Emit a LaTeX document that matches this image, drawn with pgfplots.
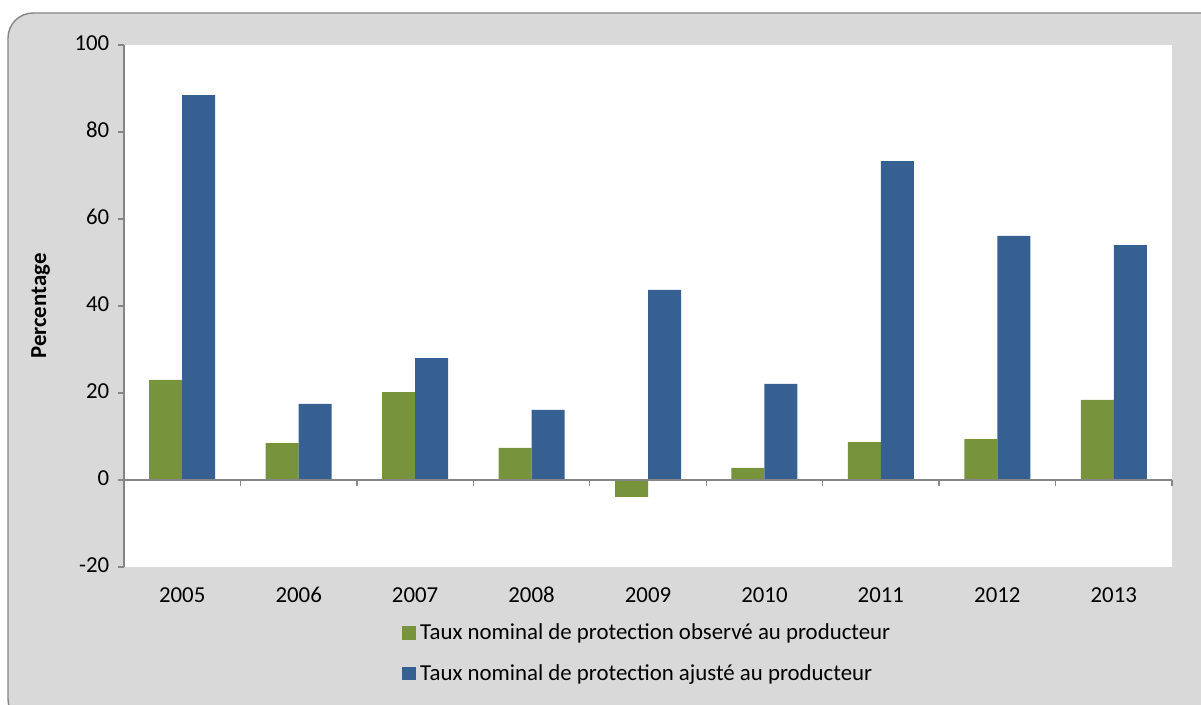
\documentclass[border=0pt]{standalone}
\usepackage{fontspec}
\setmainfont{Carlito}
\usepackage{pgfplots}
\pgfplotsset{compat=1.18}

\definecolor{panelgray}{HTML}{D9D9D9}
\definecolor{edgegray}{HTML}{868686}
\definecolor{obsgreen}{HTML}{77933C}
\definecolor{adjblue}{HTML}{366092}

\begin{document}
\begin{tikzpicture}
\useasboundingbox (0,0) rectangle (24.02,14.08);
\fill[white] (0,0) rectangle (24.02,14.08);
\draw[edgegray, fill=panelgray, line width=0.8pt, rounded corners=0.5cm]
  (0.16,-0.4) rectangle (24.6,13.82);
\begin{axis}[
  at={(2.48cm,2.74cm)}, anchor=south west,
  scale only axis, width=20.96cm, height=10.44cm,
  ybar=0pt, bar width=0.66cm,
  ymin=-20, ymax=100, ytick={-20,0,20,40,60,80,100},
  xmin=-0.5, xmax=8.5, xtick={0,...,8},
  xticklabels={2005,2006,2007,2008,2009,2010,2011,2012,2013},
  axis background/.style={fill=white},
  axis x line*=bottom, axis y line*=left,
  x axis line style={draw=none},
  y axis line style={draw=edgegray, line width=0.8pt},
  x tick style={draw=none},
  y tick style={draw=edgegray, line width=0.8pt},
  tick align=outside, major tick length=0.12cm,
  tick label style={font=\fontsize{13}{15}\selectfont},
  /pgf/number format/assume math mode=true,
  typeset ticklabels with strut,
  yticklabel style={xshift=-0.05cm},
  xticklabel style={yshift=-0.1cm},
  ylabel={\textbf{Percentage}},
  ylabel style={font=\fontsize{13}{15}\selectfont, yshift=0.25cm},
  legend columns=1,
  legend style={at={(0.5,-0.095)}, anchor=north, draw=none, fill=none,
    font=\fontsize{13}{15}\selectfont, row sep=0.3cm,
    /tikz/every odd column/.append style={column sep=0.02cm}},
  legend image code/.code={\fill[#1] (0cm,-0.13cm) rectangle (0.27cm,0.14cm);},
  legend cell align=left,
  clip=false,
]
\addplot[fill=obsgreen, draw=none] coordinates {
  (0,23.0) (1,8.5) (2,20.2) (3,7.4) (4,-3.9) (5,2.8) (6,8.7) (7,9.4) (8,18.4)};
\addplot[fill=adjblue, draw=none] coordinates {
  (0,88.5) (1,17.5) (2,28.0) (3,16.1) (4,43.7) (5,22.1) (6,73.3) (7,56.1) (8,54.0)};
\legend{Taux nominal de protection observé au producteur,
        Taux nominal de protection ajusté au producteur}
\draw[edgegray, line width=0.8pt] (axis cs:-0.5,0) -- (axis cs:8.5,0);
\pgfplotsinvokeforeach{0.5,1.5,2.5,3.5,4.5,5.5,6.5,7.5,8.5}{
  \draw[edgegray, line width=0.8pt] (axis cs:#1,0) -- ([yshift=-0.11cm]axis cs:#1,0);
}
\end{axis}
\end{tikzpicture}
\end{document}
